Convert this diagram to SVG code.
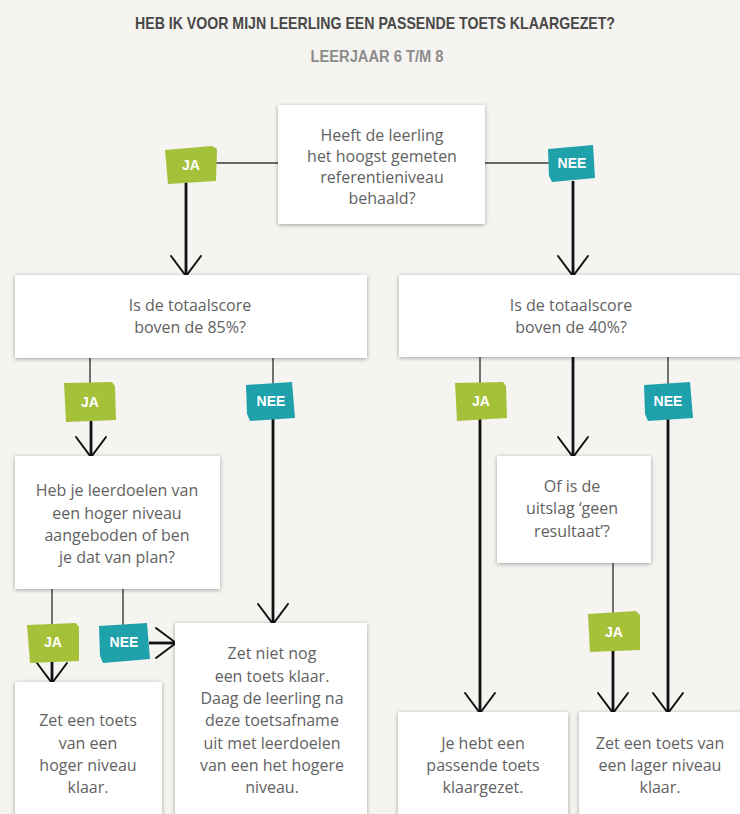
<svg xmlns="http://www.w3.org/2000/svg" width="740" height="814" viewBox="0 0 740 814">
<style>
.bg{fill:#f5f4f0}
.box{fill:#ffffff;filter:url(#sh)}
.t{font-family:"Open Sans","Liberation Sans",sans-serif;font-size:16px;fill:#626262;text-anchor:middle}
.title{font-family:"Liberation Sans",Arial,sans-serif;font-weight:bold;font-size:17px;fill:#484848;text-anchor:middle}
.sub{font-family:"Liberation Sans",Arial,sans-serif;font-weight:bold;font-size:16px;fill:#8c8c8c;text-anchor:middle}
.ja{fill:#a5c13a}
.nee{fill:#1fa1ac}
.tt{font-family:"Liberation Sans",Arial,sans-serif;font-weight:bold;font-size:14px;fill:#fff;text-anchor:middle}
.thin{stroke:#3a3a3a;stroke-width:1.4;fill:none}
.thick{stroke:#111;stroke-width:2.8;fill:none;marker-end:url(#arr)}
</style>
<defs>
<filter id="sh" x="-10%" y="-10%" width="120%" height="130%">
<feDropShadow dx="0" dy="1" stdDeviation="2" flood-color="#000" flood-opacity="0.35"/>
</filter>
<marker id="arr" markerUnits="userSpaceOnUse" viewBox="-22 -18 26 36" markerWidth="26" markerHeight="36" refX="0" refY="0" orient="auto" overflow="visible">
<path d="M-20,-15 L0,0 L-20,15" stroke="#111" stroke-width="2" fill="none" stroke-linecap="round"/>
</marker>
</defs>
<rect class="bg" x="0" y="0" width="740" height="814"/>
<text class="title" x="375" y="29" textLength="480" lengthAdjust="spacingAndGlyphs">HEB IK VOOR MIJN LEERLING EEN PASSENDE TOETS KLAARGEZET?</text>
<text class="sub" x="377" y="62" textLength="133" lengthAdjust="spacingAndGlyphs">LEERJAAR 6 T/M 8</text>

<g id="connectors">
<path class="thin" d="M278,163 H216"/>
<path class="thick" d="M186,182 V276"/>
<path class="thin" d="M485,163 H549"/>
<path class="thick" d="M573,181 V276"/>
<path class="thin" d="M90,358 V384"/>
<path class="thick" d="M91,421 V457"/>
<path class="thin" d="M273,358 V384"/>
<path class="thick" d="M273,419 V624"/>
<path class="thin" d="M480,357 V384"/>
<path class="thick" d="M480,419 V713"/>
<path class="thick" d="M573,357 V457"/>
<path class="thin" d="M668,357 V384"/>
<path class="thick" d="M668,419 V713"/>
<path class="thin" d="M52,589 V625"/>
<path class="thick" d="M52,661 V683"/>
<path class="thin" d="M123,589 V625"/>
<path class="thick" d="M149,643 H176"/>
<path class="thin" d="M613,563 V614"/>
<path class="thick" d="M613,651 V713"/>
</g>

<g id="n1"><rect class="box" x="278" y="105" width="207" height="119"/>
<text class="t" x="382" y="141">Heeft de leerling</text>
<text class="t" x="382" y="162">het hoogst gemeten</text>
<text class="t" x="382" y="183">referentieniveau</text>
<text class="t" x="382" y="204">behaald?</text></g>

<g id="n2"><rect class="box" x="15" y="275" width="352" height="83"/>
<text class="t" x="190" y="311">Is de totaalscore</text>
<text class="t" x="190" y="333">boven de 85%?</text></g>

<g id="n3"><rect class="box" x="399" y="275" width="350" height="82"/>
<text class="t" x="571" y="311">Is de totaalscore</text>
<text class="t" x="571" y="333">boven de 40%?</text></g>

<g id="n4"><rect class="box" x="15" y="456" width="205" height="133"/>
<text class="t" x="117" y="496">Heb je leerdoelen van</text>
<text class="t" x="117" y="519">een hoger niveau</text>
<text class="t" x="117" y="541">aangeboden of ben</text>
<text class="t" x="117" y="563">je dat van plan?</text></g>

<g id="n5"><rect class="box" x="175" y="623" width="192" height="210"/>
<text class="t" x="272" y="659">Zet niet nog</text>
<text class="t" x="272" y="682">een toets klaar.</text>
<text class="t" x="272" y="704">Daag de leerling na</text>
<text class="t" x="272" y="726">deze toetsafname</text>
<text class="t" x="272" y="749">uit met leerdoelen</text>
<text class="t" x="272" y="771">van een het hogere</text>
<text class="t" x="272" y="793">niveau.</text></g>

<g id="n6"><rect class="box" x="497" y="456" width="154" height="107"/>
<text class="t" x="572" y="492">Of is de</text>
<text class="t" x="572" y="514">uitslag ‘geen</text>
<text class="t" x="572" y="537">resultaat’?</text></g>

<g id="n7"><rect class="box" x="15" y="682" width="147" height="150"/>
<text class="t" x="88" y="726">Zet een toets</text>
<text class="t" x="88" y="749">van een</text>
<text class="t" x="88" y="771">hoger niveau</text>
<text class="t" x="88" y="793">klaar.</text></g>

<g id="n8"><rect class="box" x="398" y="712" width="170" height="120"/>
<text class="t" x="483" y="749">Je hebt een</text>
<text class="t" x="483" y="771">passende toets</text>
<text class="t" x="483" y="793">klaargezet.</text></g>

<g id="n9"><rect class="box" x="579" y="712" width="170" height="120"/>
<text class="t" x="660" y="749">Zet een toets van</text>
<text class="t" x="660" y="771">een lager niveau</text>
<text class="t" x="660" y="793">klaar.</text></g>

<g id="tag1"><path class="ja" d="M165,150 L212,146 L217,149 L216,181 L168,184 Z"/><text class="tt" x="191" y="170">JA</text></g>
<g id="tag2"><path class="nee" d="M548,149 L593,145 L595,178 L552,182 L549,176 Z"/><text class="tt" x="572" y="168">NEE</text></g>
<g id="tag3"><path class="ja" d="M64,383 L112,382 L115,386 L116,420 L66,422 Z"/><text class="tt" x="90" y="407">JA</text></g>
<g id="tag4"><path class="nee" d="M246,385 L292,382 L295,418 L250,421 L247,414 Z"/><text class="tt" x="271" y="406">NEE</text></g>
<g id="tag5"><path class="ja" d="M455,383 L503,382 L506,386 L507,418 L457,421 Z"/><text class="tt" x="481" y="406">JA</text></g>
<g id="tag6"><path class="nee" d="M644,385 L690,382 L693,418 L648,421 L645,414 Z"/><text class="tt" x="668" y="406">NEE</text></g>
<g id="tag7"><path class="ja" d="M27,625 L76,623 L79,627 L79,661 L30,663 Z"/><text class="tt" x="53" y="647">JA</text></g>
<g id="tag8"><path class="nee" d="M99,626 L147,623 L150,659 L103,663 L100,656 Z"/><text class="tt" x="124" y="647">NEE</text></g>
<g id="tag9"><path class="ja" d="M588,614 L636,611 L640,615 L640,650 L590,652 Z"/><text class="tt" x="614" y="637">JA</text></g>
</svg>
